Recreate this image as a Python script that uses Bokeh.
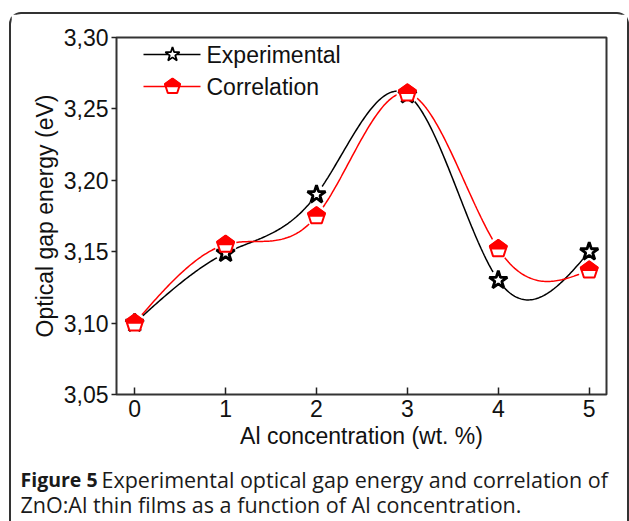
import numpy as np
from bokeh.plotting import figure
from bokeh.layouts import column
from bokeh.models import FixedTicker, Label, Range1d
from bokeh.core.properties import value
from bokeh.embed import file_html
from bokeh.resources import INLINE

# ---- data ----
al_conc = [0, 1, 2, 3, 4, 5]
experimental = [3.100, 3.149, 3.190, 3.260, 3.130, 3.150]
correlation = [3.100, 3.155, 3.175, 3.261, 3.152, 3.137]
x_ticks = [0, 1, 2, 3, 4, 5]
y_ticks = [3.05, 3.10, 3.15, 3.20, 3.25, 3.30]
y_tick_labels = ["3,05", "3,10", "3,15", "3,20", "3,25", "3,30"]
series_names = ["Experimental", "Correlation"]
x_title = "Al concentration (wt. %)"
y_title = "Optical gap energy (eV)"
caption_bold = "Figure 5"
caption_line1 = "Experimental optical gap energy and correlation of"
caption_line2 = "ZnO:Al thin films as a function of Al concentration."

# ---- layout (local to the bordered box) ----
BOX_L, BOX_T, BW = 9, 12, 2
CW = 629 - BOX_L - 2 * BW          # content width
PH = 450                           # main plot height
CH = 521 - BOX_T - BW - PH         # caption height
FL, FR, FT, FB = 105, 595, 23, 380 # frame in local px
x0, x1 = -0.2, 5.19
y0, y1 = 3.05, 3.30
sx = (FR - FL) / (x1 - x0)
sy = (FB - FT) / (y1 - y0)


def px2x(px):
    return x0 + (px - FL) / sx


def py2y(py):
    return y1 - (py - FT) / sy


def natural_spline(xs, ys, n=300):
    xs = np.asarray(xs, float)
    ys = np.asarray(ys, float)
    k = len(xs)
    h = np.diff(xs)
    A = np.zeros((k, k))
    b = np.zeros(k)
    A[0, 0] = A[-1, -1] = 1
    for i in range(1, k - 1):
        A[i, i - 1] = h[i - 1]
        A[i, i] = 2 * (h[i - 1] + h[i])
        A[i, i + 1] = h[i]
        b[i] = 3 * ((ys[i + 1] - ys[i]) / h[i] - (ys[i] - ys[i - 1]) / h[i - 1])
    c = np.linalg.solve(A, b)
    bc = (ys[1:] - ys[:-1]) / h - h * (2 * c[:-1] + c[1:]) / 3
    dc = (c[1:] - c[:-1]) / (3 * h)
    xx = np.linspace(xs[0], xs[-1], n)
    idx = np.clip(np.searchsorted(xs, xx, side="right") - 1, 0, k - 2)
    d = xx - xs[idx]
    yy = ys[idx] + bc[idx] * d + c[idx] * d ** 2 + dc[idx] * d ** 3
    return xx, yy


def pentagon(cx, cy, r, upper=False):
    ang = np.deg2rad([90, 18, -54, -126, 162])
    if upper:
        ux = np.array([0, 0.951, 0.851, -0.851, -0.951])
        uy = np.array([1, 0.309, 0.0, 0.0, 0.309])
    else:
        ux = np.cos(ang)
        uy = np.sin(ang)
    return list(cx + ux * r / sx), list(cy + uy * r / sy)


FONT = "Liberation Sans"
p = figure(width=CW, height=PH, output_backend="svg", toolbar_location=None,
           x_range=Range1d(x0, x1), y_range=Range1d(y0, y1),
           min_border_left=FL, min_border_right=CW - FR,
           min_border_top=FT, min_border_bottom=PH - FB)
p.frame_align = False
p.background_fill_color = "white"
p.border_fill_color = "white"
p.grid.visible = False
p.outline_line_color = "#333333"
p.outline_line_width = 2

for ax in (p.xaxis[0], p.yaxis[0]):
    ax.axis_line_color = None
    ax.major_tick_line_color = "#222222"
    ax.major_tick_line_width = 1.5
    ax.minor_tick_line_color = None
    ax.major_label_text_font = FONT
    ax.major_label_text_font_size = "23px"
    ax.major_label_text_color = "#111111"
    ax.axis_label_text_font = FONT
    ax.axis_label_text_font_size = "23px"
    ax.axis_label_text_font_style = "normal"
    ax.axis_label_text_color = "#111111"

p.xaxis.ticker = FixedTicker(ticks=x_ticks)
p.xaxis.major_tick_in = 7
p.xaxis.major_tick_out = 0
p.xaxis.major_label_standoff = 5
p.xaxis.axis_label = x_title
p.xaxis.axis_label_standoff = 3

p.yaxis.ticker = FixedTicker(ticks=y_ticks)
p.yaxis.major_label_overrides = {t: l for t, l in zip(y_ticks, y_tick_labels)}
p.yaxis.major_tick_in = 0
p.yaxis.major_tick_out = 5
p.yaxis.major_label_standoff = 3
p.yaxis.axis_label = y_title
p.yaxis.axis_label_standoff = 3

# curves
ex, ey = natural_spline(al_conc, experimental)
cx_, cy_ = natural_spline(al_conc, correlation)
p.line(ex, ey, line_color="black", line_width=1.5)
p.line(cx_, cy_, line_color="red", line_width=1.5)

# white halos to open gaps around markers
p.scatter(al_conc, experimental, marker="circle", size=20, fill_color="white", line_color=None)
p.scatter(al_conc, correlation, marker="circle", size=22, fill_color="white", line_color=None)

# star markers
p.scatter(al_conc, experimental, marker="star", size=19, fill_color="white",
          line_color="black", line_width=2.8)

# pentagon markers
R = 9
low_xs, low_ys, up_xs, up_ys = [], [], [], []
for xv, yv in zip(al_conc, correlation):
    a, b = pentagon(xv, yv, R)
    low_xs.append(a); low_ys.append(b)
    a, b = pentagon(xv, yv, R, upper=True)
    up_xs.append(a); up_ys.append(b)
p.patches(low_xs, low_ys, fill_color="white", line_color="red", line_width=2)
p.patches(up_xs, up_ys, fill_color="red", line_color="red", line_width=1.5)

# legend (manual)
leg_rows = [40, 72]
lx0, lx1, lxm, ltx = 132, 189, 161, 195
p.line([px2x(lx0), px2x(lx1)], [py2y(leg_rows[0])] * 2, line_color="black", line_width=1.5)
p.scatter([px2x(lxm)], [py2y(leg_rows[0])], marker="star", size=15, fill_color="white",
          line_color="black", line_width=1.8)
p.line([px2x(lx0), px2x(lx1)], [py2y(leg_rows[1])] * 2, line_color="red", line_width=1.5)
a, b = pentagon(px2x(lxm), py2y(leg_rows[1]), 8)
p.patch(a, b, fill_color="white", line_color="red", line_width=2)
a, b = pentagon(px2x(lxm), py2y(leg_rows[1]), 8, upper=True)
p.patch(a, b, fill_color="red", line_color="red", line_width=1.5)
for name, row in zip(series_names, leg_rows):
    p.add_layout(Label(x=px2x(ltx), y=py2y(row), text=name, text_font=FONT,
                       text_font_size="23px", text_baseline="middle", text_color="#111111"))

# caption figure
c = figure(width=CW, height=CH, output_backend="svg", toolbar_location=None,
           x_range=Range1d(0, CW), y_range=Range1d(CH, 0),
           min_border=0, min_border_left=0, min_border_right=0,
           min_border_top=0, min_border_bottom=0)
c.frame_align = False
c.axis.visible = False
c.grid.visible = False
c.outline_line_color = None
c.background_fill_color = "white"
c.border_fill_color = "white"
CAP = "Open Sans"
c.text(x=[9], y=[15], text=[caption_bold], text_font=value(CAP), text_font_style="bold",
       text_font_size="19.5px", text_baseline="alphabetic", text_color="#1a1a1a")
c.text(x=[90], y=[15], text=[caption_line1], text_font=value(CAP),
       text_font_size="21.5px", text_baseline="alphabetic", text_color="#1a1a1a")
c.text(x=[9], y=[40], text=[caption_line2], text_font=value(CAP),
       text_font_size="21.5px", text_baseline="alphabetic", text_color="#1a1a1a")

layout = column(p, c, spacing=0,
                styles={"margin-left": f"{BOX_L}px", "margin-top": f"{BOX_T}px",
                        "border-left": f"{BW}px solid #333333",
                        "border-top": f"{BW}px solid #333333",
                        "border-right": f"{BW}px solid #333333",
                        "border-top-left-radius": "12px",
                        "border-top-right-radius": "12px"})

open("out.html", "w").write(file_html(layout, INLINE))
